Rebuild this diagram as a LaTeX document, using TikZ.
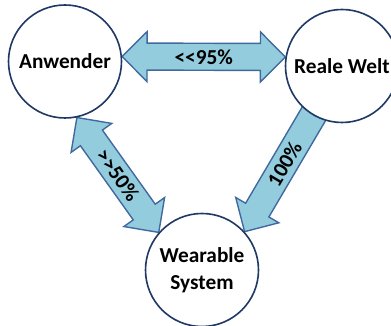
\documentclass[tikz,border=0pt]{standalone}
\usepackage{fontspec}
\setmainfont{Carlito}[Ligatures=TeXOff]
\usetikzlibrary{calc,backgrounds}
\definecolor{arrfill}{HTML}{93CDDD}
\definecolor{arrline}{HTML}{41699F}
\definecolor{circline}{HTML}{1F3864}
\tikzset{
  circ/.style={circle, draw=circline, line width=1.6pt, fill=white,
    minimum size=113pt, inner sep=0pt, align=center,
    font=\fontsize{21.3}{26.5}\selectfont\bfseries},
  barrow/.style={fill=arrfill, draw=arrline, line width=1.4pt, line join=miter},
  lbl/.style={font=\fontsize{21.3}{26}\selectfont\bfseries, inner sep=0pt}
}
% double block arrow between two named coordinates
\newcommand\mydblarrow[2]{%
  \coordinate (h1) at ($(#1)!25pt!(#2)$);
  \coordinate (h2) at ($(#2)!25pt!(#1)$);
  \draw[barrow] (#1)
    -- ($(h1)!25pt!90:(#2)$) -- ($(h1)!13.5pt!90:(#2)$)
    -- ($(h2)!13.5pt!-90:(#1)$) -- ($(h2)!25pt!-90:(#1)$)
    -- (#2)
    -- ($(h2)!25pt!90:(#1)$) -- ($(h2)!13.5pt!90:(#1)$)
    -- ($(h1)!13.5pt!-90:(#2)$) -- ($(h1)!25pt!-90:(#2)$)
    -- cycle;}
% single block arrow from tail #1 to tip #2
\newcommand\mysglarrow[2]{%
  \coordinate (h2) at ($(#2)!25pt!(#1)$);
  \draw[barrow] ($(#1)!13.5pt!90:(#2)$)
    -- ($(h2)!13.5pt!-90:(#1)$) -- ($(h2)!25pt!-90:(#1)$)
    -- (#2)
    -- ($(h2)!25pt!90:(#1)$) -- ($(h2)!13.5pt!90:(#1)$)
    -- ($(#1)!13.5pt!-90:(#2)$)
    -- cycle;}
\begin{document}
\begin{tikzpicture}[x=1pt,y=1pt]
\useasboundingbox (0,0) rectangle (391,326);
\node[circ] (A) at (65,264.5) {Anwender};
\node[circ] (R) at (342,260) {Reale Welt};
\node[circ] (W) at (202,56) {Wearable\\System};
\coordinate (t1) at (A.5);
\coordinate (t2) at (R.171);
\coordinate (t3) at (A.-78);
\coordinate (t4) at (W.139);
\coordinate (t5) at (R.center);
\coordinate (t6) at (W.42);
\begin{pgfonlayer}{background}
  \mydblarrow{t1}{t2}
  \mydblarrow{t3}{t4}
  \mysglarrow{t5}{t6}
\end{pgfonlayer}
\path (t1) -- (t2) node[lbl, midway] (L1) {<<95\%};
\path (t3) -- (t4) node[lbl, midway, sloped] (L2) {>>50\%};
\path (t6) -- (t5) node[lbl, pos=0.41, sloped] (L3) {100\%};
\end{tikzpicture}
\end{document}
